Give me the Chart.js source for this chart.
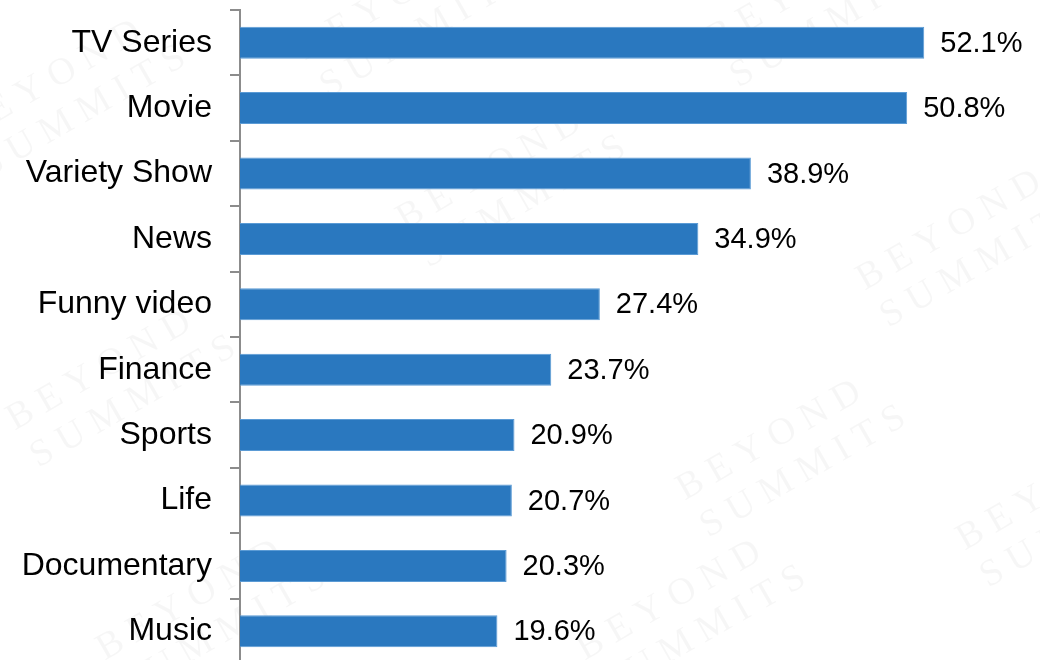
<!DOCTYPE html>
<html>
<head>
<meta charset="utf-8">
<script src="https://cdn.jsdelivr.net/npm/chart.js@4/dist/chart.umd.min.js"></script>
<style>
  html, body { margin: 0; padding: 0; background: #ffffff; overflow: hidden; }
  #wrap { width: 1040px; height: 664px; }
</style>
</head>
<body>
<div id="wrap"><canvas id="c" width="1040" height="664"></canvas></div>
<script>
// Content categories and share of viewers (%)
const categories = ['TV Series', 'Movie', 'Variety Show', 'News', 'Funny video', 'Finance', 'Sports', 'Life', 'Documentary', 'Music'];
const shares = [52.1, 50.8, 38.9, 34.9, 27.4, 23.7, 20.9, 20.7, 20.3, 19.6];

// Faint brand watermark spots (center x, center y)
const markSpots = [[60, 100], [400, 20], [810, 10], [500, 190], [960, 250], [110, 390], [780, 460], [1060, 510], [200, 620], [680, 620]];

const FONT = "'Liberation Sans', Arial, sans-serif";

const backdrop = {
  id: 'backdrop',
  beforeDraw(chart) {
    const ctx = chart.ctx;
    ctx.save();
    ctx.fillStyle = '#ffffff';
    ctx.fillRect(0, 0, chart.width, chart.height);
    ctx.fillStyle = 'rgba(0,0,0,0.035)';
    ctx.font = "38px 'Liberation Serif', 'DejaVu Serif', serif";
    ctx.textAlign = 'center';
    ctx.textBaseline = 'middle';
    markSpots.forEach(([x, y]) => {
      ctx.save();
      ctx.translate(x, y);
      ctx.rotate(-0.52);
      ctx.fillText('B E Y O N D', 0, -22);
      ctx.fillText('S U M M I T S', 14, 22);
      ctx.restore();
    });
    ctx.restore();
  }
};

const valueLabels = {
  id: 'valueLabels',
  afterDatasetsDraw(chart) {
    const ctx = chart.ctx;
    const meta = chart.getDatasetMeta(0);
    ctx.save();
    ctx.fillStyle = '#000000';
    ctx.font = '29px ' + FONT;
    ctx.textAlign = 'left';
    ctx.textBaseline = 'middle';
    meta.data.forEach((bar, i) => {
      ctx.fillText(shares[i].toFixed(1) + '%', bar.x + 16, bar.y + 1);
    });
    ctx.restore();
  }
};

new Chart(document.getElementById('c'), {
  type: 'bar',
  data: {
    labels: categories,
    datasets: [{
      data: shares,
      backgroundColor: '#2a78bf',
      borderColor: '#5b9bd5',
      borderWidth: 1,
      borderSkipped: 'start',
      barPercentage: 0.49,
      categoryPercentage: 1
    }]
  },
  options: {
    indexAxis: 'y',
    responsive: false,
    animation: false,
    devicePixelRatio: 1,
    layout: { padding: { top: 10, right: 12, bottom: 0, left: 0 } },
    plugins: { legend: { display: false }, tooltip: { enabled: false } },
    scales: {
      x: { display: false, min: 0, max: 60 },
      y: {
        afterFit(scale) {
          scale.width = 240;
          scale.paddingTop = 0;
          scale.paddingBottom = 0;
        },
        border: { display: true, color: '#8c8c8c', width: 2 },
        grid: {
          offset: true,
          drawOnChartArea: false,
          drawTicks: true,
          tickLength: 10,
          color: '#8c8c8c',
          lineWidth: 2
        },
        ticks: {
          color: '#000000',
          padding: 18,
          font: { family: FONT, size: 32 }
        }
      }
    }
  },
  plugins: [backdrop, valueLabels]
});
</script>
</body>
</html>
